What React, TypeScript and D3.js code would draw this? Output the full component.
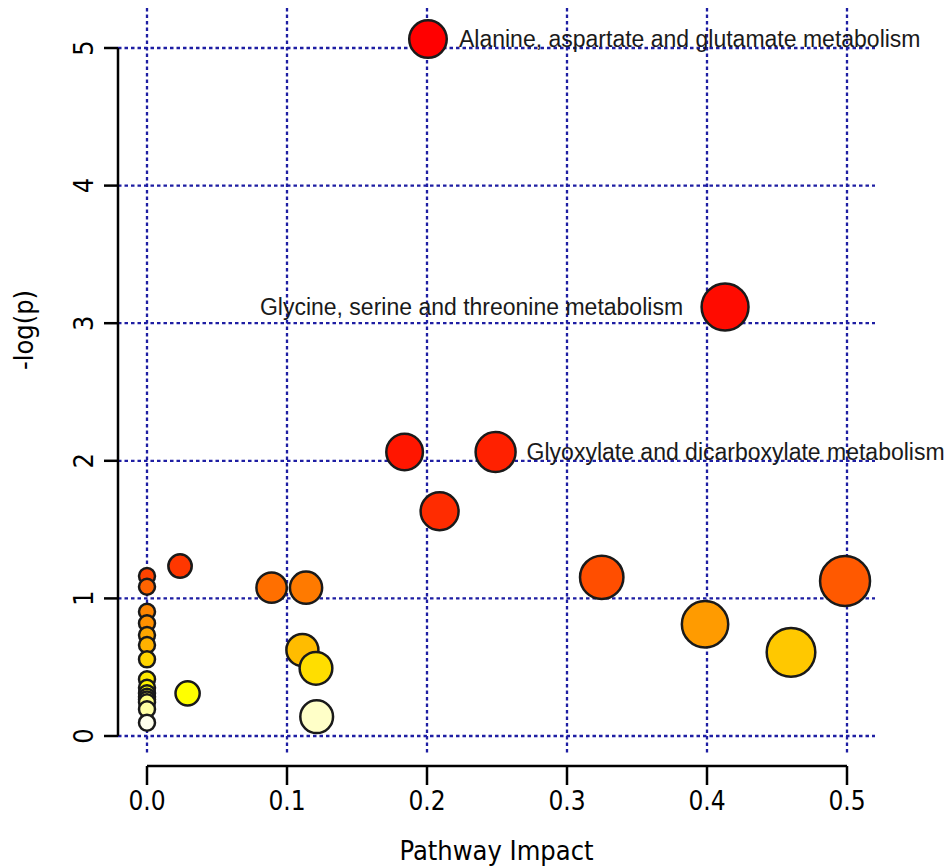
import React, { useRef, useEffect } from "react";
import * as d3 from "d3";

// Pathway analysis: impact vs -log(p)
const impact = [
  0.2007, 0.4129, 0.184, 0.249, 0.209, 0.0236, 0.3248, 0.4986, 0.089, 0.1136,
  0.111, 0.1207, 0.1212, 0.029, 0.3986, 0.46,
  0, 0, 0, 0, 0, 0, 0, 0, 0, 0, 0, 0, 0, 0, 0,
];
const negLogP = [
  5.065, 3.118, 2.064, 2.064, 1.633, 1.235, 1.153, 1.126, 1.078, 1.078,
  0.625, 0.492, 0.14, 0.31, 0.812, 0.608,
  1.163, 1.085, 0.903, 0.819, 0.734, 0.661, 0.557, 0.412, 0.35, 0.31, 0.285,
  0.265, 0.245, 0.194, 0.097,
];

const labelIndex = [0, 1, 3];
const labelNames = [
  "Alanine, aspartate and glutamate metabolism",
  "Glycine, serine and threonine metabolism",
  "Glyoxylate and dicarboxylate metabolism",
];
const labelSide = ["right", "left", "right"];

const xTicks = [0, 0.1, 0.2, 0.3, 0.4, 0.5];
const yTicks = [0, 1, 2, 3, 4, 5];

// R heat.colors(n)
const heatColors = (n: number) => {
  const j = Math.floor(n / 4);
  const i = n - j;
  const out: string[] = [];
  for (let k = 0; k < i; k++) {
    const h = i > 1 ? k / (i - 1) / 6 : 0;
    out.push(d3.rgb(255, Math.round(255 * 6 * h), 0).formatHex());
  }
  for (let k = 0; k < j; k++) {
    const s = j > 1 ? 1 - 1 / (2 * j) - (k * (1 - 1 / j)) / (j - 1) : 0.5;
    out.push(d3.rgb(255, 255, Math.round(255 * (1 - s))).formatHex());
  }
  return out;
};

const axisFont = "'Liberation Sans Narrow', 'DejaVu Sans Condensed', sans-serif";

const PathwayChart = ({ width = 952, height = 868 }) => {
  const ref = useRef<SVGSVGElement>(null);

  useEffect(() => {
    const container = ref.current;
    if (!container) return;
    d3.select(container).selectChildren().remove();
    const svg = d3.select(container);

    const x = d3.scaleLinear().domain([0, 0.5]).range([147, 847]);
    const y = d3.scaleLinear().domain([0, 5]).range([736, 48]);
    const r = d3.scalePow().exponent(0.5).domain([0, 0.5]).range([8, 25]);
    const plot = { left: 118, right: 875, top: 8, bottom: 755 };

    // grid
    const grid = svg
      .append("g")
      .attr("stroke", "#1e1ea3")
      .attr("stroke-width", 2.3)
      .attr("stroke-dasharray", "3.5,3");
    grid
      .selectAll("line.h")
      .data(yTicks)
      .join("line")
      .attr("class", "h")
      .attr("x1", plot.left)
      .attr("x2", plot.right)
      .attr("y1", (d) => y(d))
      .attr("y2", (d) => y(d));
    grid
      .selectAll("line.v")
      .data(xTicks)
      .join("line")
      .attr("class", "v")
      .attr("x1", (d) => x(d))
      .attr("x2", (d) => x(d))
      .attr("y1", plot.top)
      .attr("y2", plot.bottom);

    // y axis
    const yAxis = svg.append("g").attr("stroke", "#000").attr("stroke-width", 2.5);
    yAxis
      .append("line")
      .attr("x1", plot.left)
      .attr("x2", plot.left)
      .attr("y1", y(0))
      .attr("y2", y(5));
    yAxis
      .selectAll("line.t")
      .data(yTicks)
      .join("line")
      .attr("class", "t")
      .attr("x1", plot.left - 14)
      .attr("x2", plot.left)
      .attr("y1", (d) => y(d))
      .attr("y2", (d) => y(d));
    svg
      .append("g")
      .selectAll("text")
      .data(yTicks)
      .join("text")
      .attr("transform", (d) => `translate(93, ${y(d)}) rotate(-90)`)
      .attr("text-anchor", "middle")
      .style("font-family", axisFont)
      .style("font-size", "27px")
      .text((d) => d);

    // x axis
    const axisY = 766;
    const xAxis = svg.append("g").attr("stroke", "#000").attr("stroke-width", 2.5);
    xAxis
      .append("line")
      .attr("x1", x(0))
      .attr("x2", x(0.5))
      .attr("y1", axisY)
      .attr("y2", axisY);
    xAxis
      .selectAll("line.t")
      .data(xTicks)
      .join("line")
      .attr("class", "t")
      .attr("x1", (d) => x(d))
      .attr("x2", (d) => x(d))
      .attr("y1", axisY)
      .attr("y2", axisY + 19);
    svg
      .append("g")
      .selectAll("text")
      .data(xTicks)
      .join("text")
      .attr("x", (d) => x(d))
      .attr("y", 810)
      .attr("text-anchor", "middle")
      .style("font-family", axisFont)
      .style("font-size", "26px")
      .text((d) => d3.format(".1f")(d));

    // axis titles
    svg
      .append("text")
      .attr("x", (plot.left + plot.right) / 2)
      .attr("y", 860)
      .attr("text-anchor", "middle")
      .style("font-family", axisFont)
      .style("font-size", "27px")
      .text("Pathway Impact");
    svg
      .append("text")
      .attr("transform", "translate(33, 330) rotate(-90)")
      .attr("text-anchor", "middle")
      .style("font-family", axisFont)
      .style("font-size", "27px")
      .text("-log(p)");

    // points, drawn in order of p (most significant first)
    const order = d3.range(impact.length).sort((a, b) => negLogP[b] - negLogP[a]);
    const palette = heatColors(order.length);
    const color = d3.scaleOrdinal<number, string>().domain(order).range(palette);

    svg
      .append("g")
      .selectAll("circle")
      .data(order)
      .join("circle")
      .attr("cx", (i) => x(impact[i]))
      .attr("cy", (i) => y(negLogP[i]))
      .attr("r", (i) => r(impact[i]))
      .attr("fill", (i) => color(i))
      .attr("stroke", "#1a1a1a")
      .attr("stroke-width", 2.5);

    // labels
    svg
      .append("g")
      .selectAll("text")
      .data(labelIndex)
      .join("text")
      .attr("x", (i, k) =>
        labelSide[k] === "right" ? x(impact[i]) + 31 : x(impact[i]) - 42
      )
      .attr("y", (i) => y(negLogP[i]))
      .attr("dy", "0.35em")
      .attr("text-anchor", (_i, k) => (labelSide[k] === "right" ? "start" : "end"))
      .style("font-family", "'Liberation Sans', Arial, sans-serif")
      .style("font-size", "23px")
      .style("fill", "#1a1a1a")
      .text((_i, k) => labelNames[k]);
  }, [width, height]);

  return (
    <svg
      ref={ref}
      width={width}
      height={height}
      style={{ position: "absolute", left: 0, top: 0, background: "#fff" }}
    />
  );
};

export default function App() {
  return <PathwayChart />;
}
